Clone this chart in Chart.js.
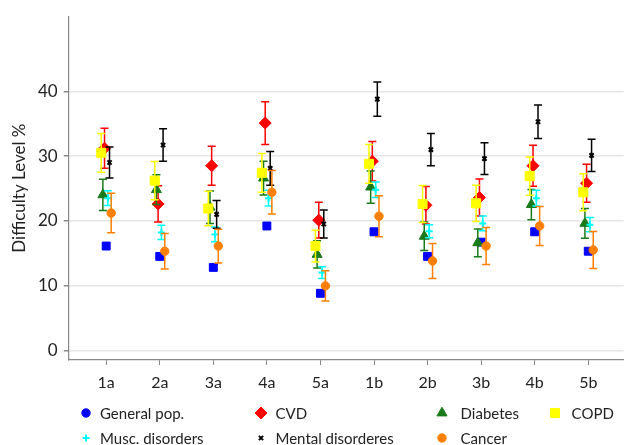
<!DOCTYPE html>
<html>
<head>
<meta charset="utf-8">
<title>Difficulty Level</title>
<script src="https://cdn.jsdelivr.net/npm/chart.js@4.4.1/dist/chart.umd.min.js"></script>
<style>
  body { margin: 0; background: #fff; }
  #wrap { position: relative; width: 631px; height: 445px; }
  #legend { position: absolute; left: 0; top: 0; width: 631px; height: 445px; pointer-events: none;
            font: 15px Lato, sans-serif; color: #222; }
  #legend canvas, #legend span { position: absolute; transform: translateY(-50%); white-space: nowrap; }
</style>
</head>
<body>
<div id="wrap">
  <canvas id="difficultyChart" width="631" height="445"></canvas>
  <div id="legend"></div>
</div>
<script>
const categories = ["1a", "2a", "3a", "4a", "5a", "1b", "2b", "3b", "4b", "5b"];
const yTicks = [0, 10, 20, 30, 40];

// estimated means and half-width of the error bars
const generalPop = [16.1, 14.5, 12.8, 19.2, 8.8, 18.3, 14.5, 16.7, 18.3, 15.3];
const generalPopErr = [0.4, 0.4, 0.4, 0.4, 0.4, 0.4, 0.4, 0.4, 0.4, 0.4];
const cvd = [31.2, 22.6, 28.5, 35.1, 20.1, 29.2, 22.4, 23.6, 28.5, 25.8];
const cvdErr = [3.1, 2.8, 3.0, 3.3, 2.75, 3.05, 2.9, 2.85, 3.15, 2.95];
const diabetes = [24.0, 24.8, 22.1, 26.6, 14.8, 25.2, 17.6, 16.6, 22.5, 19.6];
const diabetesErr = [2.4, 2.3, 2.5, 2.6, 2.1, 2.5, 2.2, 2.15, 2.35, 2.3];
const copd = [30.5, 26.2, 21.9, 27.4, 16.1, 28.8, 22.6, 22.7, 26.9, 24.4];
const copdErr = [3.0, 2.95, 2.65, 3.0, 2.45, 3.0, 2.85, 2.8, 2.95, 2.85];
const musc = [23.5, 18.2, 17.9, 23.5, 12.0, 24.8, 18.4, 19.6, 23.5, 19.4];
const muscErr = [1.15, 1.1, 1.15, 1.2, 0.9, 1.2, 1.0, 1.15, 1.2, 1.1];
const mental = [29.0, 31.7, 21.0, 28.1, 19.5, 38.8, 31.0, 29.6, 35.3, 30.1];
const mentalErr = [2.4, 2.5, 2.15, 2.6, 2.15, 2.65, 2.5, 2.45, 2.6, 2.5];
const cancer = [21.2, 15.3, 16.1, 24.4, 9.95, 20.7, 13.8, 16.1, 19.2, 15.5];
const cancerErr = [3.05, 2.75, 2.6, 3.35, 2.35, 3.15, 2.7, 2.85, 3.0, 2.85];

const FONT = "Lato, sans-serif";
const DODGE = 0.031; // horizontal shift between series inside a category

// label, values, errors, colour, marker, size, legend marker, shift slot
const series = [
  ["General pop.", generalPop, generalPopErr, "#0000ff", "rect", 5.6, "circle", 0],
  ["CVD", cvd, cvdErr, "#ff0000", "rectRot", 6, "rectRot", -1],
  ["Diabetes", diabetes, diabetesErr, "#1a7a1a", "triangle", 5.8, "triangle", -2],
  ["COPD", copd, copdErr, "#ffff00", "rect", 6.4, "rect", -3],
  ["Musc. disorders", musc, muscErr, "#00ffff", "cross", 3.5, "cross", 1],
  ["Mental disorderes", mental, mentalErr, "#000000", "crossRot", 3, "crossRot", 2],
  ["Cancer", cancer, cancerErr, "#ff8000", "circle", 4.2, "circle", 3],
];

const datasets = series.map(([label, values, errs, color, marker, size, legendMarker, slot], i) => ({
  label: label,
  data: values.map((v, j) => ({ x: j + 1 + slot * DODGE, y: v })),
  errors: errs,
  legendMarker: legendMarker,
  showLine: false,
  pointStyle: marker,
  pointRadius: size,
  pointHoverRadius: size,
  pointBorderWidth: marker.startsWith("cross") ? 2 : 1,
  backgroundColor: color,
  borderColor: color,
  order: series.length - i,
}));

// draw each series' error bars just before its markers
const errorBars = {
  id: "errorBars",
  beforeDatasetDraw(chart, args) {
    const ds = chart.data.datasets[args.index];
    const xs = chart.scales.x;
    const ys = chart.scales.y;
    const ctx = chart.ctx;
    ctx.save();
    ctx.strokeStyle = ds.borderColor;
    ctx.lineWidth = 1.5;
    ds.data.forEach((p, i) => {
      const x = xs.getPixelForValue(p.x);
      const top = ys.getPixelForValue(p.y + ds.errors[i]);
      const bot = ys.getPixelForValue(p.y - ds.errors[i]);
      ctx.beginPath();
      ctx.moveTo(x, top);
      ctx.lineTo(x, bot);
      ctx.moveTo(x - 4, top);
      ctx.lineTo(x + 4, top);
      ctx.moveTo(x - 4, bot);
      ctx.lineTo(x + 4, bot);
      ctx.stroke();
    });
    ctx.restore();
  },
};

const chart = new Chart(document.getElementById("difficultyChart"), {
  type: "scatter",
  data: { datasets: datasets },
  plugins: [errorBars],
  options: {
    responsive: false,
    animation: false,
    layout: { padding: { top: 13, right: 0, bottom: 50, left: 0 } },
    plugins: { legend: { display: false }, tooltip: { enabled: false } },
    scales: {
      x: {
        type: "linear",
        min: 0.3,
        max: 10.66,
        afterBuildTicks: (scale) => { scale.ticks = categories.map((c, i) => ({ value: i + 1 })); },
        afterFit: (scale) => { scale.height = 35; },
        ticks: {
          callback: (value) => categories[value - 1],
          color: "#222",
          padding: 8,
          font: { family: FONT, size: 16 },
        },
        grid: { drawOnChartArea: false, tickLength: 5, tickColor: "#888" },
        border: { color: "#888", width: 1.2 },
      },
      y: {
        min: -1.5,
        max: 51.6,
        afterBuildTicks: (scale) => { scale.ticks = yTicks.map((v) => ({ value: v })); },
        afterFit: (scale) => { scale.width = 68.7; },
        ticks: { color: "#222", padding: 6, font: { family: FONT, size: 17 } },
        grid: { color: "#e6e6e6", lineWidth: 1.5, tickLength: 5, tickColor: "#888" },
        border: { color: "#888", width: 1.2 },
        title: {
          display: true,
          text: "Difficulty Level %",
          color: "#222",
          padding: { top: 9, bottom: 0 },
          font: { family: FONT, size: 17 },
        },
      },
    },
  },
});

// legend laid out in the reference's grid of four columns and two rows
const legendMarkX = [85.5, 260.7, 442.4, 555.3];
const legendTextX = [100, 275.5, 460.6, 571.6];
const legendRows = [413, 438];
const legendEl = document.getElementById("legend");
chart.data.datasets.forEach((ds, i) => {
  const col = i % 4;
  const top = legendRows[Math.floor(i / 4)] + "px";
  const c = document.createElement("canvas");
  c.width = 16;
  c.height = 16;
  c.style.left = (legendMarkX[col] - 8) + "px";
  c.style.top = top;
  const cx = c.getContext("2d");
  cx.fillStyle = ds.backgroundColor;
  cx.strokeStyle = ds.borderColor;
  cx.lineWidth = ds.pointBorderWidth;
  Chart.helpers.drawPoint(cx, { pointStyle: ds.legendMarker, radius: ds.legendMarker === "circle" ? 4.2 : ds.pointRadius, rotation: 0, borderWidth: ds.pointBorderWidth }, 8, 8);
  legendEl.appendChild(c);
  const span = document.createElement("span");
  span.textContent = ds.label;
  span.style.left = legendTextX[col] + "px";
  span.style.top = top;
  legendEl.appendChild(span);
});
</script>
</body>
</html>
